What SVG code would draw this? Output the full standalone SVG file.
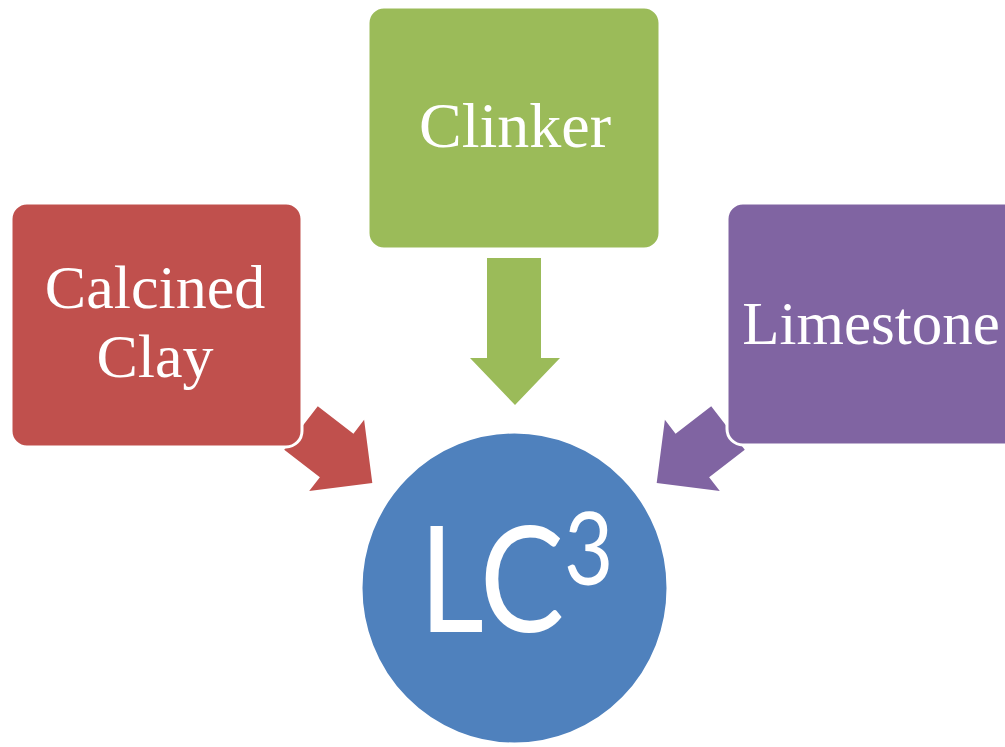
<svg xmlns="http://www.w3.org/2000/svg" width="1005" height="747" viewBox="0 0 1005 747">
<style>
.box{stroke:#fff;stroke-width:3}
.lbl{font-family:"Liberation Serif","Times New Roman",serif;fill:#fff;text-anchor:middle}
.big{font-family:Lato,"Liberation Sans",sans-serif;fill:#fff}
</style>
<defs>
<polygon id="diag" points="0,-27.5 45,-27.5 45,-45 90,0 45,45 45,27.5 0,27.5"/>
</defs>
<rect width="1005" height="747" fill="#fff"/>
<g id="connectors">
<polygon fill="#9BBB59" points="487,258 541,258 541,358 560,358 515,405 470,358 487,358"/>
<use href="#diag" fill="#C0504D" transform="translate(301,428) rotate(37.6)"/>
<use href="#diag" fill="#8064A2" transform="translate(728,428) rotate(142.4)"/>
</g>
<g id="clinker">
<rect class="box" x="368" y="7" width="292" height="242" rx="16" fill="#9BBB59"/>
<text class="lbl" x="515" y="147" font-size="64">Clinker</text>
</g>
<g id="calcined-clay">
<rect class="box" x="11" y="203" width="291" height="244" rx="16" fill="#C0504D"/>
<text class="lbl" x="155" y="308" font-size="62">Calcined</text>
<text class="lbl" x="155" y="377" font-size="62">Clay</text>
</g>
<g id="limestone">
<rect class="box" x="727" y="203" width="292" height="242" rx="16" fill="#8064A2"/>
<text class="lbl" x="871" y="344" font-size="61">Limestone</text>
</g>
<g id="lc3">
<ellipse cx="514.5" cy="588" rx="153" ry="155.5" fill="#4F81BD" stroke="#fff" stroke-width="2"/>
<text class="big" x="0" y="0" font-size="147" transform="translate(419,632) scale(0.86,1)">LC</text>
<text class="big" x="0" y="0" font-size="100" transform="translate(564,585) scale(0.85,1)">3</text>
</g>
</svg>
